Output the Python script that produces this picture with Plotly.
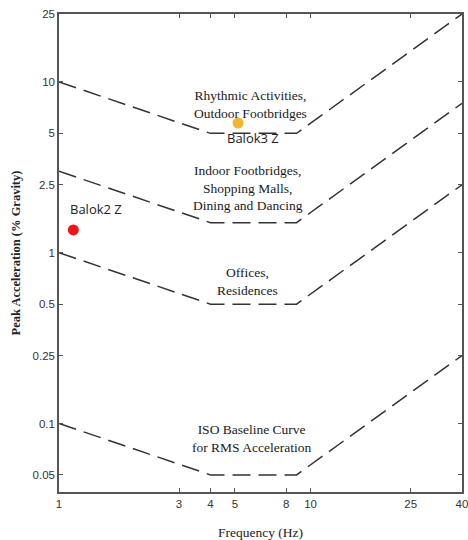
import numpy as np
import plotly.graph_objects as go

# Criterion curves (frequency Hz, peak acceleration % g)
freq_pts = [1, 4, 8.8, 40]
rhythmic = [10, 5, 5, 25]
indoor = [3, 1.5, 1.5, 7.5]
offices = [1, 0.5, 0.5, 2.5]
iso_base = [0.1, 0.05, 0.05, 0.25]

# Measured points
balok_names = ["Balok2 Z", "Balok3 Z"]
balok_freq = [1.14, 5.15]
balok_acc = [1.36, 5.75]
balok_colors = ["#f01414", "#f7b52c"]

x_ticks = [1, 3, 4, 5, 8, 10, 25, 40]
y_ticks = [0.05, 0.1, 0.25, 0.5, 1, 2.5, 5, 10, 25]

fig = go.Figure()
for ys in [rhythmic, indoor, offices, iso_base]:
    fig.add_trace(go.Scatter(x=freq_pts, y=ys, mode="lines",
                             line=dict(color="#333333", width=1.5, dash="18px,8px"),
                             showlegend=False, hoverinfo="skip"))

for n, fx, ay, c in zip(balok_names, balok_freq, balok_acc, balok_colors):
    fig.add_trace(go.Scatter(x=[fx], y=[ay], mode="markers",
                             marker=dict(color=c, size=11), showlegend=False, name=n))

serif = "Liberation Serif, Times New Roman, serif"
sans = "Liberation Sans, Arial, sans-serif"
label_sans = "Open Sans, Liberation Sans, Arial, sans-serif"

labels = [
    ("Rhythmic Activities,<br>Outdoor Footbridges", 5.75, 7.4),
    ("Indoor Footbridges,<br>Shopping Malls,<br>Dining and Dancing", 5.65, 2.4),
    ("Offices,<br>Residences", 5.6, 0.675),
    ("ISO Baseline Curve<br>for RMS Acceleration", 5.8, 0.082),
]
for t, fx, ay in labels:
    fig.add_annotation(x=np.log10(fx), y=np.log10(ay), text=t, showarrow=False,
                       font=dict(family=serif, size=13.5, color="#1a1a1a"),
                       xanchor="center", yanchor="middle")

fig.add_annotation(x=np.log10(balok_freq[0]), y=np.log10(balok_acc[0]), text="Balok2 Z",
                   showarrow=False, xanchor="left", yanchor="bottom", xshift=-5, yshift=10,
                   font=dict(family=label_sans, size=13, color="#222"))
fig.add_annotation(x=np.log10(balok_freq[1]), y=np.log10(balok_acc[1]), text="Balok3 Z",
                   showarrow=False, xanchor="center", yanchor="top", xshift=15, yshift=-4,
                   font=dict(family=label_sans, size=13, color="#222"))

axis_common = dict(type="log", showgrid=False, zeroline=False, showline=True,
                   linecolor="#555", linewidth=1.5, mirror="ticks", ticks="inside",
                   ticklen=4, tickcolor="#555", automargin=False,
                   ticklabeloverflow="allow",
                   tickfont=dict(family=sans, size=11.5, color="#333"))

fig.update_layout(
    width=468, height=540,
    margin=dict(l=59, r=6, t=14, b=48),
    plot_bgcolor="white", paper_bgcolor="white",
    xaxis=dict(**axis_common, range=[0, np.log10(40)], tickvals=x_ticks,
               ticktext=[str(v) for v in x_ticks],
               title=dict(text="Frequency (Hz)", standoff=19,
                          font=dict(family=serif, size=13.5, color="#222"))),
    yaxis=dict(**axis_common, range=[np.log10(0.0397), np.log10(25)], tickvals=y_ticks,
               ticktext=[str(v) for v in y_ticks],
               title=dict(text="<b>Peak Acceleration (% Gravity)</b>", standoff=9,
                          font=dict(family=serif, size=12.5, color="#222"))),
)

fig.write_html("out.html", config={"displayModeBar": False},
               post_script="document.body.style.margin='0';document.body.style.overflow='hidden';")
